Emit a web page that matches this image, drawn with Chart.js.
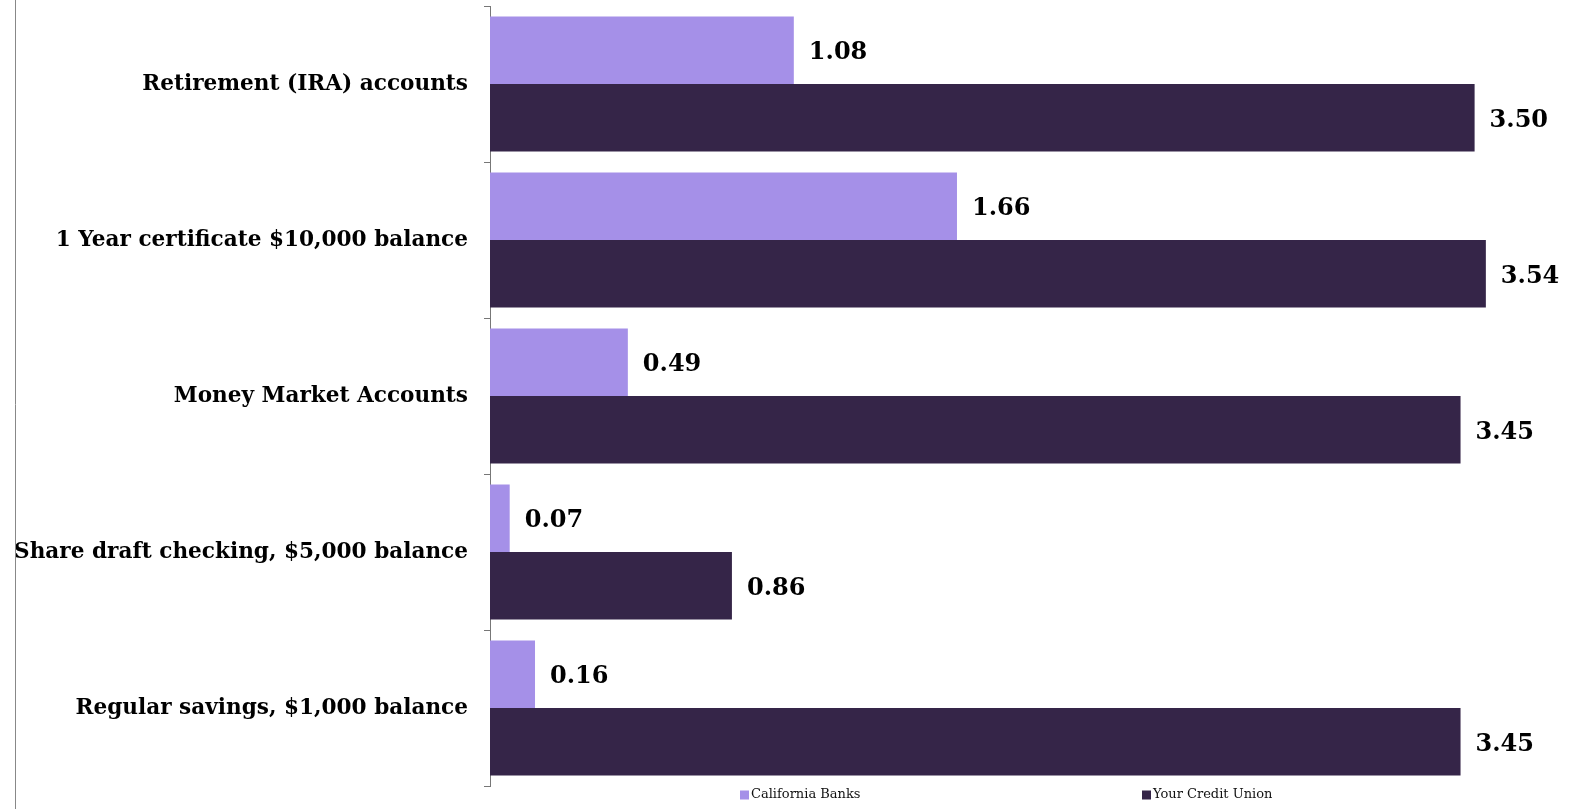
<!DOCTYPE html>
<html lang="en">
  <head>
    <meta charset="UTF-8" />
    <title>Dividend rates</title>
    <script src="https://cdn.jsdelivr.net/npm/chart.js@4"></script>
    <style>
      body { margin: 0; background: #fff; }
    </style>
  </head>
  <body>
    <canvas id="rates" width="1579" height="809"></canvas>
    <script>
      const products = [
        'Retirement (IRA) accounts',
        '1 Year certificate $10,000 balance',
        'Money Market Accounts',
        'Share draft checking, $5,000 balance',
        'Regular savings, $1,000 balance'
      ];
      const banks = [1.08, 1.66, 0.49, 0.07, 0.16];
      const creditUnion = [3.50, 3.54, 3.45, 0.86, 3.45];

      const serif = '"DejaVu Serif", "Liberation Serif", serif';

      // value labels at the end of each bar
      const valueLabels = {
        id: 'valueLabels',
        afterDatasetsDraw(chart) {
          const ctx = chart.ctx;
          ctx.save();
          ctx.font = 'bold 24px ' + serif;
          ctx.fillStyle = '#000';
          ctx.textBaseline = 'middle';
          chart.data.datasets.forEach((ds, i) => {
            chart.getDatasetMeta(i).data.forEach((bar, j) => {
              ctx.fillText(ds.data[j].toFixed(2), bar.x + 15, bar.y + 3);
            });
          });
          ctx.restore();
        }
      };

      // frame line on the left and the legend under the bars
      const extras = {
        id: 'extras',
        afterDraw(chart) {
          const ctx = chart.ctx;
          const area = chart.chartArea;
          ctx.save();
          ctx.strokeStyle = '#888';
          ctx.lineWidth = 1;
          ctx.beginPath();
          ctx.moveTo(15.5, 0);
          ctx.lineTo(15.5, chart.height);
          ctx.stroke();

          ctx.font = '13px ' + serif;
          ctx.textBaseline = 'middle';
          const offsets = [250, 652];
          chart.data.datasets.forEach((ds, i) => {
            const x = area.left + offsets[i];
            const y = area.bottom + 9;
            ctx.fillStyle = ds.backgroundColor;
            ctx.fillRect(x, y - 4.5, 9, 9);
            ctx.fillStyle = '#111';
            ctx.fillText(ds.label, x + 11, y);
          });
          ctx.restore();
        }
      };

      const ctx = document.getElementById('rates').getContext('2d');
      new Chart(ctx, {
        type: 'bar',
        data: {
          labels: products,
          datasets: [
            {
              label: 'California Banks',
              data: banks,
              backgroundColor: '#a590e8',
              borderWidth: 0
            },
            {
              label: 'Your Credit Union',
              data: creditUnion,
              backgroundColor: '#352548',
              borderWidth: 0
            }
          ]
        },
        options: {
          indexAxis: 'y',
          responsive: false,
          animation: false,
          categoryPercentage: 0.866,
          barPercentage: 1,
          layout: { padding: { top: 6, bottom: 23, right: 20, left: 0 } },
          plugins: {
            legend: { display: false },
            tooltip: { enabled: false }
          },
          scales: {
            x: {
              display: false,
              min: 0,
              max: 3.8
            },
            y: {
              afterFit(scale) {
                scale.width = 490;
                scale.paddingTop = 0;
                scale.paddingBottom = 0;
              },
              grid: {
                offset: true,
                drawOnChartArea: false,
                tickLength: 6,
                color: '#777'
              },
              border: { color: '#777', width: 1 },
              ticks: {
                padding: 16,
                color: '#000',
                font: { family: serif, size: 21.6, weight: 'bold' }
              }
            }
          }
        },
        plugins: [valueLabels, extras]
      });
    </script>
  </body>
</html>
